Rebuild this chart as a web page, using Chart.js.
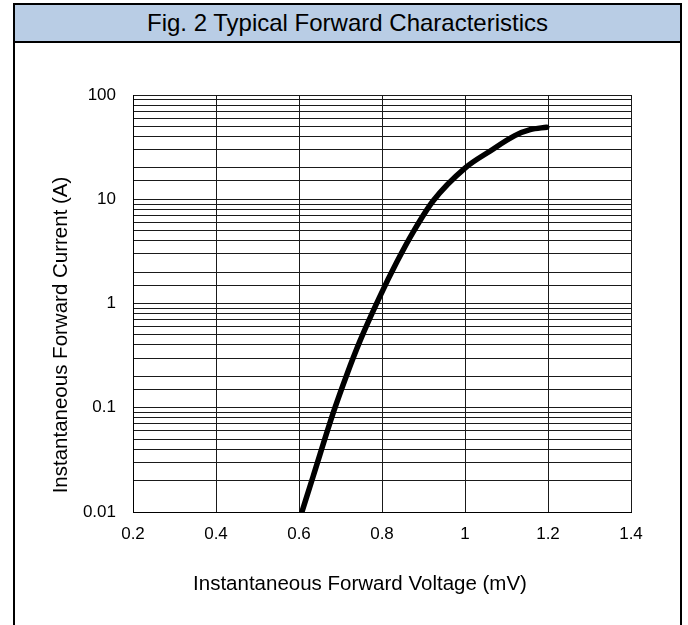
<!DOCTYPE html>
<html>
<head>
<meta charset="utf-8">
<script src="https://cdn.jsdelivr.net/npm/chart.js@4"></script>
<style>
  html, body { margin: 0; padding: 0; background: #fff; overflow: hidden; }
  body { width: 688px; height: 625px; position: relative; font-family: "Liberation Sans", Arial, sans-serif; }
  .frame {
    position: absolute; left: 13px; top: 3px; width: 665px; height: 700px;
    border: 2px solid #000;
  }
  .frame-title {
    height: 36px; line-height: 36px; background: #b9cde5;
    border-bottom: 2px solid #000; text-align: center;
    font-size: 24px; color: #000;
  }
  #chart { position: absolute; left: 0; top: 0; }
</style>
</head>
<body>
<div class="frame">
  <div class="frame-title">Fig. 2 Typical Forward Characteristics</div>
</div>
<canvas id="chart" width="688" height="625"></canvas>
<script>
// forward voltage (mV) vs forward current (A)
const voltage = [0.607, 0.634, 0.683, 0.715, 0.747, 0.795, 0.836, 0.875, 0.923, 1.0, 1.06, 1.12, 1.157, 1.197];
const current = [0.01, 0.0219, 0.0906, 0.2065, 0.4375, 1.17, 2.51, 4.84, 9.62, 19.9, 28.9, 40.8, 46.5, 49.1];

const xTickLabels = ['0.2', '0.4', '0.6', '0.8', '1', '1.2', '1.4'];
const yTickValues = [0.01, 0.1, 1, 10, 100];
const yTickLabels = ['0.01', '0.1', '1', '10', '100'];

const xTitle = 'Instantaneous Forward Voltage (mV)';
const yTitle = 'Instantaneous Forward Current (A)';

const fontFamily = '"Liberation Sans", Arial, sans-serif';

// axis titles sit a bit off the plot centre in the original, so draw them by hand
const axisTitles = {
    id: 'axisTitles',
    afterDraw: function(chart) {
        const c = chart.ctx;
        c.save();
        c.fillStyle = '#000';
        c.font = '20.5px ' + fontFamily;
        c.textAlign = 'center';
        c.textBaseline = 'middle';
        c.fillText(xTitle, 360, 584);
        c.translate(61, 335);
        c.rotate(-Math.PI / 2);
        c.fillText(yTitle, 0, 0);
        c.restore();
    }
};

const ctx = document.getElementById('chart');
const chart = new Chart(ctx, {
    type: 'line',
    data: {
        datasets: [{
            data: voltage.map((v, i) => ({ x: v, y: current[i] })),
            borderColor: '#000',
            borderWidth: 5.5,
            borderCapStyle: 'round',
            pointRadius: 0,
            fill: false,
            cubicInterpolationMode: 'monotone',
            clip: { left: 5, top: 5, right: 5, bottom: 0 }
        }]
    },
    options: {
        responsive: false,
        animation: false,
        layout: {
            padding: { top: 95, right: 57, left: 0, bottom: 0 }
        },
        plugins: {
            legend: { display: false },
            tooltip: { enabled: false }
        },
        scales: {
            x: {
                type: 'linear',
                min: 0.2,
                max: 1.4,
                afterFit: function(scale) { scale.height = 113; },
                ticks: {
                    stepSize: 0.2,
                    color: '#000',
                    padding: 12,
                    font: { family: fontFamily, size: 17 },
                    callback: function(value, index) { return xTickLabels[index]; }
                },
                grid: { color: '#1a1a1a', lineWidth: 1, drawTicks: false },
                border: { color: '#000', width: 1 }
            },
            y: {
                type: 'logarithmic',
                min: 0.01,
                max: 100,
                afterFit: function(scale) { scale.width = 133; },
                ticks: {
                    autoSkip: false,
                    color: '#000',
                    padding: 17,
                    font: { family: fontFamily, size: 17 },
                    callback: function(value) {
                        const i = yTickValues.findIndex(t => Math.abs(Math.log10(t) - Math.log10(value)) < 1e-6);
                        return i >= 0 ? yTickLabels[i] : '';
                    }
                },
                grid: { color: '#1a1a1a', lineWidth: 1, drawTicks: false },
                border: { color: '#000', width: 1 }
            }
        }
    },
    plugins: [axisTitles]
});
</script>
</body>
</html>
